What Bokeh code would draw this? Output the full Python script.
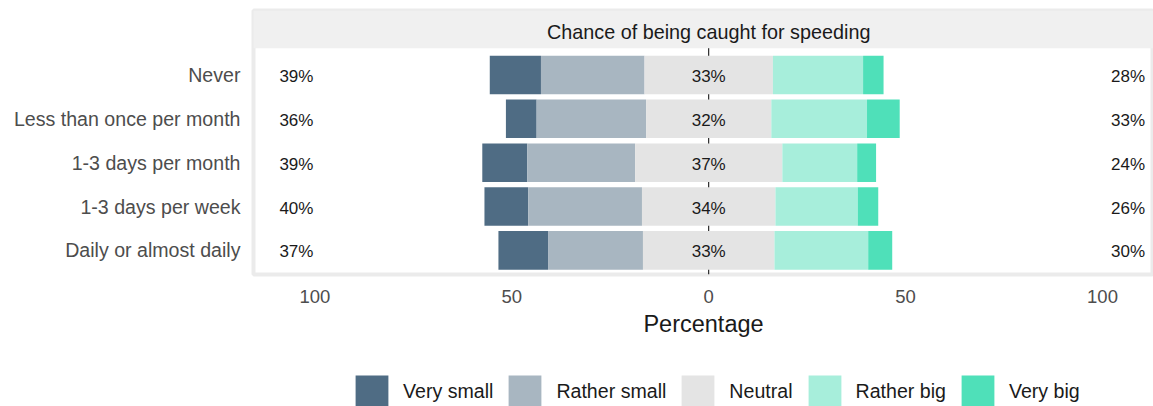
from bokeh.plotting import figure
from bokeh.layouts import column
from bokeh.models import Range1d, FixedTicker, Legend, LegendItem, ColumnDataSource
from bokeh.core.properties import value
from bokeh.embed import file_html
from bokeh.resources import INLINE

# ---- data ----
categories = ["Never", "Less than once per month", "1-3 days per month",
              "1-3 days per week", "Daily or almost daily"]
levels = ["Very small", "Rather small", "Neutral", "Rather big", "Very big"]
very_small = [13.0, 7.8, 11.4, 11.1, 12.6]
rather_small = [26.3, 27.8, 27.4, 28.9, 24.1]
neutral = [32.6, 31.8, 37.4, 33.9, 33.4]
rather_big = [22.9, 24.3, 19.0, 20.9, 23.8]
very_big = [5.2, 8.3, 4.8, 5.2, 6.1]
colors = ["#4f6c84", "#a8b6c1", "#e4e4e4", "#a7eedb", "#4fe0b9"]
x_ticks = [-100, -50, 0, 50, 100]
x_tick_labels = ["100", "50", "0", "50", "100"]
panel_title = "Chance of being caught for speeding"
x_title = "Percentage"

FONT = "Liberation Sans"
rows = list(range(1, len(categories) + 1))

p = figure(width=1153, height=339, output_backend="svg", toolbar_location=None,
           x_range=Range1d(-115.6, 112.95), y_range=Range1d(5.55, -0.47),
           min_border_left=253, min_border_right=0, min_border_top=10,
           min_border_bottom=63)
p.xgrid.visible = False
p.ygrid.visible = False
p.outline_line_color = "#ebebeb"
p.outline_line_width = 4
p.background_fill_color = "white"

# strip header
strip_bottom = 0.39
p.quad(left=-300, right=300, top=-0.47, bottom=strip_bottom,
       fill_color="#f0f0f0", line_color=None)
p.text(x=[0], y=[(strip_bottom - 0.47) / 2], y_offset=3, text=[panel_title],
       text_font=value(FONT), text_font_size="19.8px", text_color="#1a1a1a",
       text_align="center", text_baseline="middle")

# centre line
p.segment(x0=[0], y0=[strip_bottom], x1=[0], y1=[5.55], line_color="black", line_width=1)

# stacked diverging bars
for j, lvl in enumerate(levels):
    lefts, rights = [], []
    for i in range(len(categories)):
        n2 = neutral[i] / 2
        if j == 0:
            l, r = -(very_small[i] + rather_small[i] + n2), -(rather_small[i] + n2)
        elif j == 1:
            l, r = -(rather_small[i] + n2), -n2
        elif j == 2:
            l, r = -n2, n2
        elif j == 3:
            l, r = n2, n2 + rather_big[i]
        else:
            l, r = n2 + rather_big[i], n2 + rather_big[i] + very_big[i]
        lefts.append(l)
        rights.append(r)
    src = ColumnDataSource(dict(y=rows, left=lefts, right=rights))
    p.hbar(y="y", left="left", right="right", height=0.88, source=src,
           fill_color=colors[j], line_color=None)

# percentage labels
left_lab = ["%d%%" % round(a + b) for a, b in zip(very_small, rather_small)]
mid_lab = ["%d%%" % round(n) for n in neutral]
right_lab = ["%d%%" % round(a + b) for a, b in zip(rather_big, very_big)]
for xs, labs in ((-104.7, left_lab), (0, mid_lab), (106.5, right_lab)):
    p.text(x=[xs] * len(rows), y=rows, y_offset=1.5, text=labs, text_font=value(FONT),
           text_font_size="17px", text_color="#1a1a1a",
           text_align="center", text_baseline="middle")

# axes
p.yaxis.ticker = FixedTicker(ticks=rows)
p.yaxis.major_label_overrides = {r: c for r, c in zip(rows, categories)}
p.yaxis.major_label_text_font = FONT
p.yaxis.major_label_text_font_size = "19.6px"
p.yaxis.major_label_text_color = "#4d4d4d"
p.yaxis.major_tick_line_color = None
p.yaxis.minor_tick_line_color = None
p.yaxis.axis_line_color = None
p.yaxis.major_label_standoff = 7

p.xaxis.ticker = FixedTicker(ticks=x_ticks)
p.xaxis.major_label_overrides = {t: l for t, l in zip(x_ticks, x_tick_labels)}
p.xaxis.major_label_text_font = FONT
p.xaxis.major_label_text_font_size = "18.5px"
p.xaxis.major_label_text_color = "#4d4d4d"
p.xaxis.major_tick_line_color = None
p.xaxis.minor_tick_line_color = None
p.xaxis.axis_line_color = None
p.xaxis.major_label_standoff = 9
p.xaxis.axis_label = x_title
p.xaxis.axis_label_text_font = FONT
p.xaxis.axis_label_text_font_size = "23.5px"
p.xaxis.axis_label_text_font_style = "normal"
p.xaxis.axis_label_text_color = "#1a1a1a"
p.xaxis.axis_label_standoff = 5

# legend strip (separate figure so the keys can run to the bottom edge)
lg = figure(width=1153, height=67, output_backend="svg", toolbar_location=None,
            x_range=Range1d(0, 1), y_range=Range1d(0, 1), min_border=0)
lg.axis.visible = False
lg.grid.visible = False
lg.outline_line_color = None
items = []
for j, lvl in enumerate(levels):
    # off-screen proxy bar: only its legend swatch is seen
    rr = lg.hbar(y=[50], left=[50], right=[51], height=0.5,
                 fill_color=colors[j], line_color=None)
    items.append(LegendItem(label=lvl, renderers=[rr]))
legend = Legend(items=items, orientation="horizontal", location=(98, -6),
                glyph_width=41, glyph_height=41, label_height=41,
                label_standoff=11, spacing=11,
                padding=0, margin=0, border_line_color=None,
                background_fill_alpha=0, label_text_font=FONT,
                label_text_font_size="19.6px", label_text_color="#1a1a1a")
lg.add_layout(legend, "center")

layout = column(p, lg, spacing=0)
open("out.html", "w").write(file_html(layout, INLINE))
